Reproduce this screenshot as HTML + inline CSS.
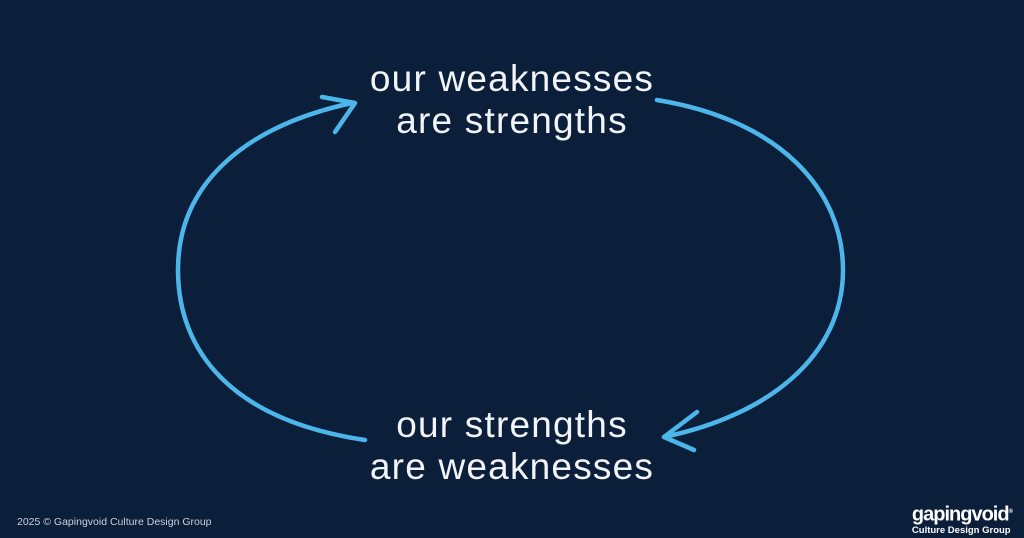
<!DOCTYPE html>
<html><head><style>
body{margin:0;width:1024px;height:538px;background:#0b1f3b;overflow:hidden;position:relative;font-family:"Liberation Sans",sans-serif}
.t{position:absolute;left:0;width:1024px;text-align:center;color:#f2f4f7;font-size:37px;letter-spacing:1.2px;line-height:42px;font-weight:normal}
</style></head><body>
<svg width="1024" height="538" style="position:absolute;left:0;top:0">
<g fill="none" stroke="#4cb6ea" stroke-width="4.5" stroke-linecap="round" stroke-linejoin="round">
<path d="M365 440 C230 420 178 350 178 270 C178 180 250 125 352 103"/>
<path d="M322 97 L355 103 L335 132"/>
<path d="M657 100 C780 120 843 190 843 270 C843 355 770 415 664 437"/>
<path d="M697 412 L664 437 L694 450"/>
</g>
</svg>
<div class="t" style="top:58px">our weaknesses<br>are strengths</div>
<div class="t" style="top:404px">our strengths<br>are weaknesses</div>
<div style="position:absolute;left:17px;top:516px;color:#c9d0da;font-size:10.5px">2025 © Gapingvoid Culture Design Group</div>
<div style="position:absolute;right:12px;top:502px;color:#fff;text-align:left">
<div style="font-size:20px;font-weight:bold;letter-spacing:-1px;line-height:20px">gapingvoid<sup style="font-size:6px">®</sup></div>
<div style="font-size:9.5px;font-weight:bold;line-height:12px">Culture Design Group</div>
</div>
</body></html>
